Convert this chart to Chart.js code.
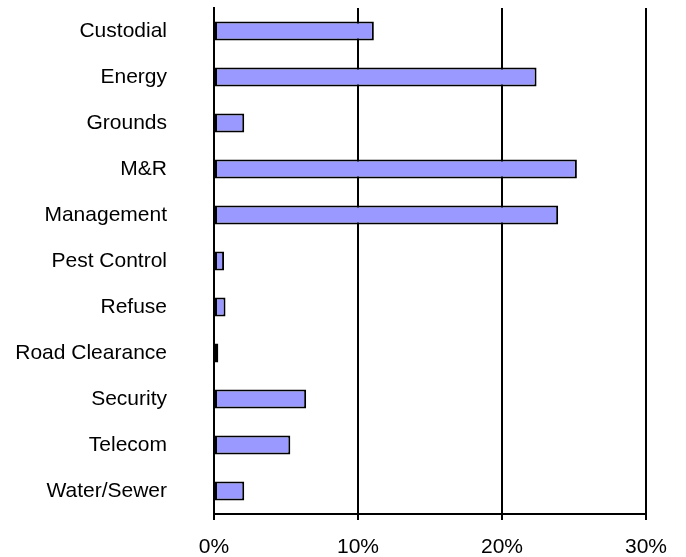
<!DOCTYPE html>
<html>
<head>
<meta charset="utf-8">
<script src="https://cdn.jsdelivr.net/npm/chart.js@4"></script>
<style>
  html, body { margin: 0; padding: 0; background: #fff; }
  #wrap { width: 686px; height: 557px; }
</style>
</head>
<body>
<div id="wrap"><canvas id="chart" width="686" height="557"></canvas></div>
<script>
const categories = ['Custodial', 'Energy', 'Grounds', 'M&R', 'Management', 'Pest Control',
    'Refuse', 'Road Clearance', 'Security', 'Telecom', 'Water/Sewer'];
const shares = [11.1, 22.4, 2.1, 25.2, 23.9, 0.7, 0.8, 0.3, 6.4, 5.3, 2.1];
const xTicks = [0, 10, 20, 30];

const font = { family: 'Arial, "Liberation Sans", sans-serif', size: 21 };

const ctx = document.getElementById("chart").getContext("2d");

new Chart(ctx, {
    type: 'bar',
    data: {
        labels: categories,
        datasets: [{
            data: shares,
            backgroundColor: '#9999FF',
            borderColor: '#000',
            borderWidth: 2,
            borderSkipped: false,
            categoryPercentage: 1,
            barPercentage: 0.41
        }]
    },
    options: {
        indexAxis: 'y',
        responsive: false,
        animation: false,
        layout: { padding: { top: 8, right: 40, left: 0, bottom: 0 } },
        plugins: { legend: { display: false }, tooltip: { enabled: false } },
        scales: {
            x: {
                min: xTicks[0],
                max: xTicks[xTicks.length - 1],
                afterBuildTicks: (scale) => { scale.ticks = xTicks.map(v => ({ value: v })); },
                afterFit: (scale) => { scale.height = 43; },
                grid: { color: '#000', lineWidth: 2, tickLength: 6 },
                border: { display: true, color: '#000', width: 2 },
                ticks: {
                    color: '#000',
                    font: font,
                    padding: 15,
                    maxRotation: 0,
                    callback: (v) => v + '%'
                }
            },
            y: {
                // keep the axis exactly 214px wide and drop the label padding above/below
                afterFit: (scale) => {
                    scale.width = 214;
                    scale.paddingTop = 0;
                    scale.paddingBottom = 0;
                },
                grid: { color: 'rgba(0,0,0,0)', drawOnChartArea: false, tickLength: 47 },
                border: { display: true, color: '#000', width: 2 },
                ticks: { color: '#000', font: font, padding: 0, autoSkip: false }
            }
        }
    }
});
</script>
</body>
</html>
